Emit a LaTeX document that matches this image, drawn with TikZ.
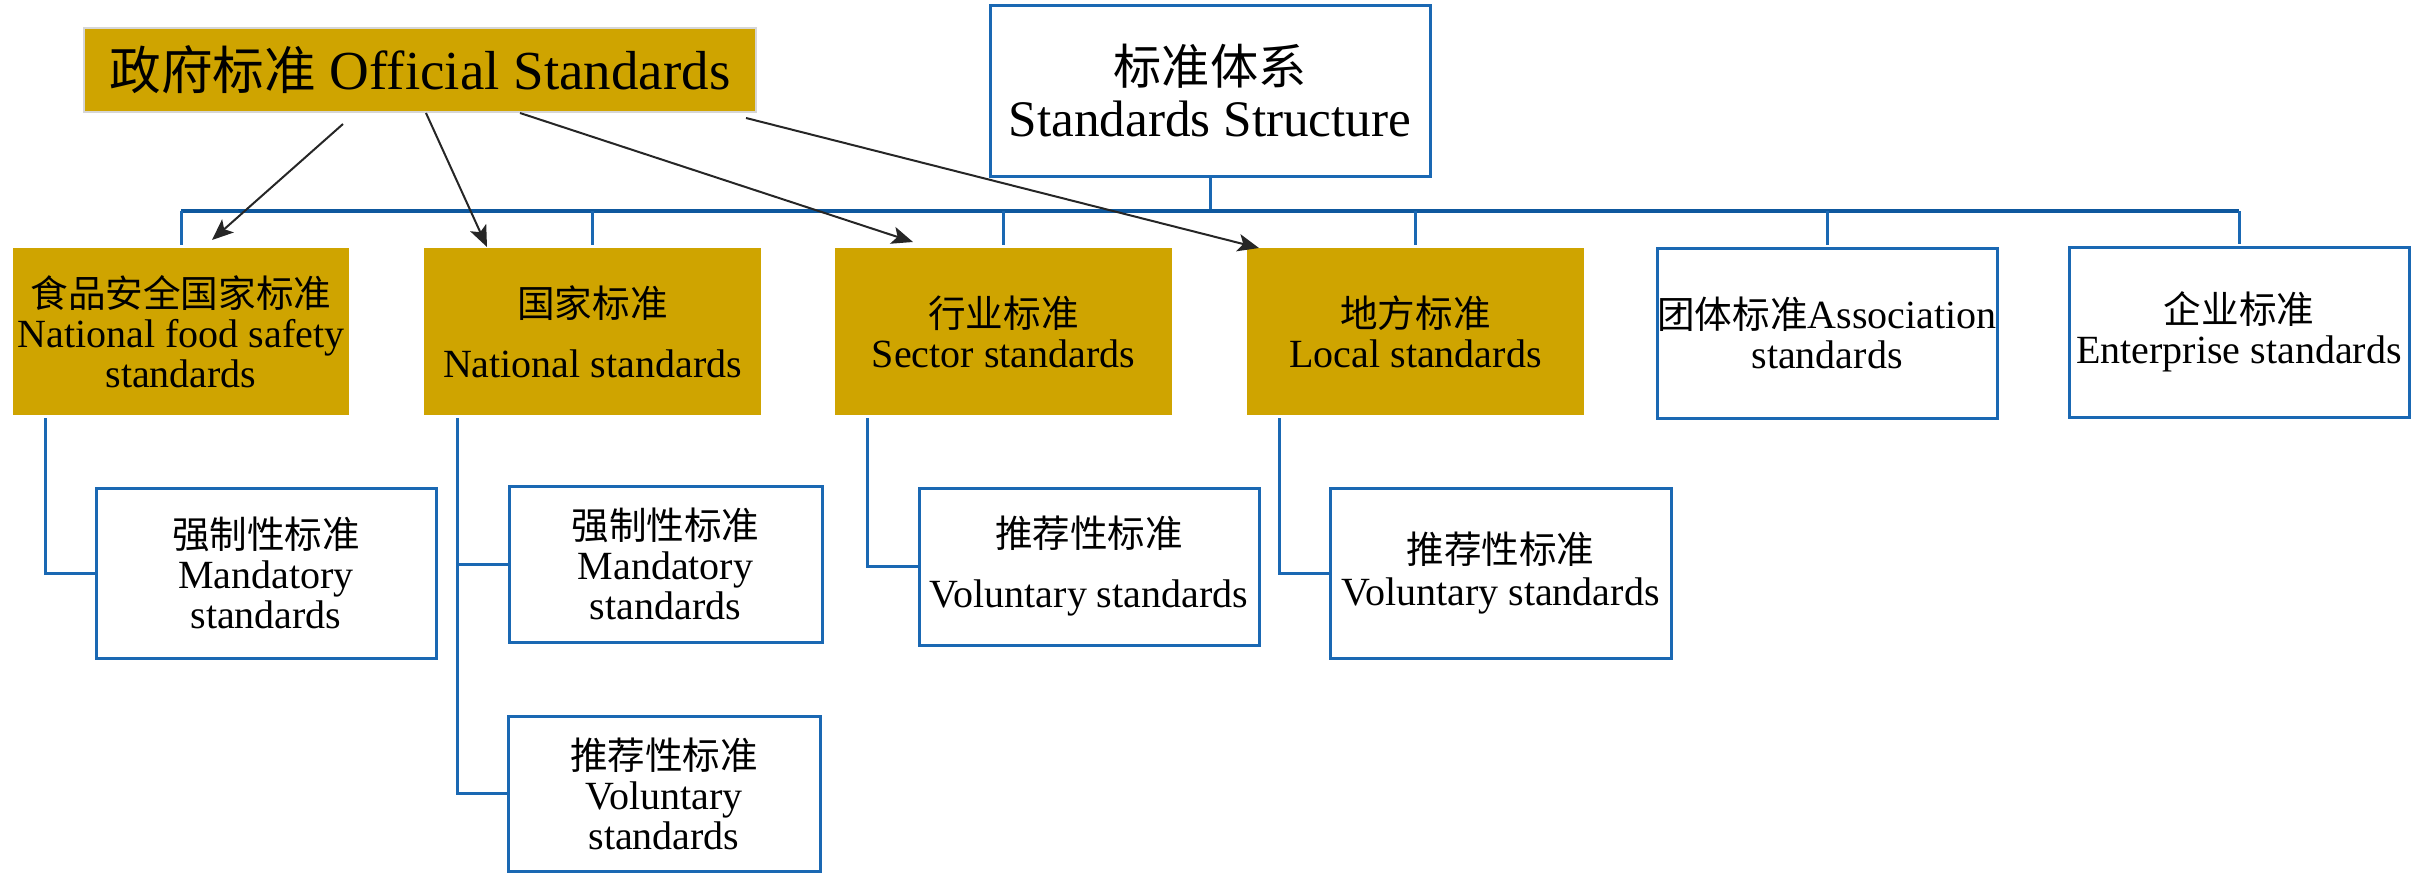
\documentclass[tikz,border=0pt]{standalone}
\usepackage{fontspec}
\setmainfont{Liberation Serif}
\newfontfamily\cjk{Noto Sans CJK SC}[Scale=0.94]
\usetikzlibrary{arrows.meta,calc}
\definecolor{gold}{HTML}{CFA400}
\definecolor{lineblue}{HTML}{1A68B3}
\definecolor{busblue}{HTML}{0E589E}
\definecolor{arrowgray}{HTML}{262626}
\definecolor{edgegray}{HTML}{D6D6D6}
\newcommand\tightlines{\lineskiplimit-20pt\lineskip0pt\relax}

\begin{document}
\begin{tikzpicture}[x=0.4pt,y=-0.4pt,
  sz/.style 2 args={minimum width=#1*0.4pt,minimum height=#2*0.4pt},
  base/.style={inner sep=0pt,outer sep=0pt,align=center,
    font=\fontsize{16}{16}\selectfont\tightlines},
  goldbox/.style={base,fill=gold},
  plainbox/.style={base,draw=lineblue,line width=1.2pt,fill=white},
  conn/.style={draw=lineblue,line width=1.2pt},
  busline/.style={draw=busblue,line width=1.6pt},
  arr/.style={draw=arrowgray,line width=0.8pt,-{Stealth[length=8.5pt,width=7pt,inset=2pt]}}]

\useasboundingbox (0,0) rectangle (2425,873);

% root and government standards
\node[base,fill=gold,draw=edgegray,line width=0.8pt,sz={672}{84},
      font=\fontsize{22}{22}\selectfont] (off) at (420,70)
      {{\cjk 政府标准} Official Standards};
\node[plainbox,sz={440}{171},font=\fontsize{20.5}{20.5}\selectfont\tightlines]
      (top) at (1210,90.5) {{\cjk 标准体系}\\Standards Structure};

% first level
\node[goldbox,sz={336}{167}] (food) at (181,331.5)
      {{\cjk 食品安全国家标准}\\National food safety\\standards};
\node[goldbox,sz={337}{167}] (nat) at (592.5,331.5)
      {{\cjk 国家标准}\\[8pt]National standards};
\node[goldbox,sz={337}{167}] (sec) at (1003.5,331.5)
      {{\cjk 行业标准}\\Sector standards};
\node[goldbox,sz={337}{167}] (loc) at (1415.5,331.5)
      {{\cjk 地方标准}\\Local standards};
\node[plainbox,sz={340}{170}] (assoc) at (1827,333)
      {{\cjk 团体标准}Association\\standards};
\node[plainbox,sz={340}{170}] (ent) at (2239,332)
      {{\cjk 企业标准}\\Enterprise standards};

% second level
\node[plainbox,sz={340}{170}] (m1) at (266,573)
      {{\cjk 强制性标准}\\Mandatory\\standards};
\node[plainbox,sz={313}{156}] (m2) at (665.5,564)
      {{\cjk 强制性标准}\\Mandatory\\standards};
\node[plainbox,sz={312}{155}] (v2) at (664,793.5)
      {{\cjk 推荐性标准}\\Voluntary\\standards};
\node[plainbox,sz={340}{157}] (v3) at (1089,566.5)
      {{\cjk 推荐性标准}\\[8pt]Voluntary standards};
\node[plainbox,sz={341}{170}] (v4) at (1500.5,573)
      {{\cjk 推荐性标准}\\[1pt]Voluntary standards};

% bus from the root to the first level
\coordinate (bus) at (0,211);
\draw[conn] (top.south) -- (top.south |- bus);
\draw[busline] (food.north |- bus) -- (ent.north |- bus);
\foreach \n in {food,nat,sec,loc,assoc,ent}
  \draw[conn] (\n.north |- bus) -- ($(\n.north)+(0,-3)$);

% links to the second level
\coordinate (fd) at ($(food.south west)+(32,3)$);
\draw[conn] (fd) |- (m1.west);
\coordinate (nd) at ($(nat.south west)+(33,3)$);
\draw[conn] (nd) |- (v2.west);
\draw[conn] (nd |- m2.west) -- (m2.west);
\coordinate (sd) at ($(sec.south west)+(32,3)$);
\draw[conn] (sd) |- (v3.west);
\coordinate (ld) at ($(loc.south west)+(32,3)$);
\draw[conn] (ld) |- (v4.west);

% government standards arrows
\draw[arr] ($(off.south west)+(259,12)$) -- ($(food.north west)+(199,-8)$);
\draw[arr] ($(off.south west)+(342,1)$) -- ($(nat.north west)+(63,-1)$);
\draw[arr] ($(off.south west)+(436,1)$) -- ($(sec.north west)+(78,-6)$);
\draw[arr] ($(off.south west)+(662,6)$) -- ($(loc.north west)+(12,0)$);
\end{tikzpicture}
\end{document}
